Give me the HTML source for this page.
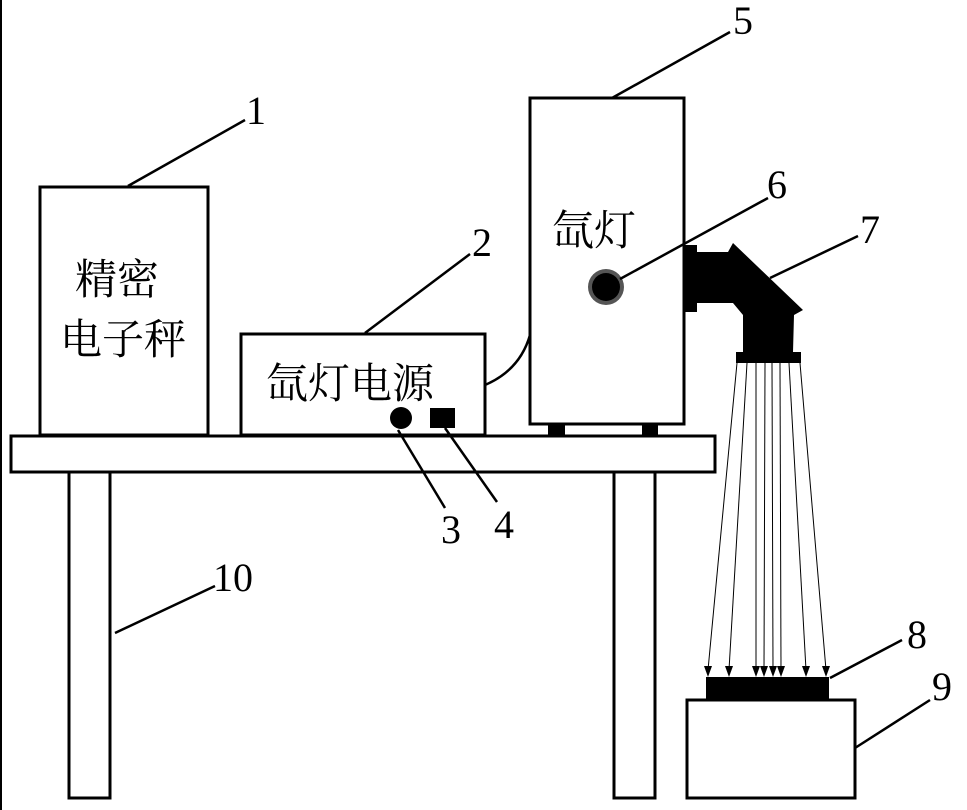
<!DOCTYPE html>
<html><head><meta charset="utf-8"><style>body{margin:0;background:#fff}svg{display:block}text{font-family:"Liberation Serif","Noto Serif CJK SC",serif;fill:#000}</style></head><body>
<svg width="967" height="810" viewBox="0 0 967 810" xmlns="http://www.w3.org/2000/svg">
<line x1="1" y1="0" x2="1" y2="810" stroke="#000" stroke-width="2"/>
<g fill="#fff" stroke="#000" stroke-width="3">
<rect x="40" y="187" width="168" height="248"/>
<rect x="241" y="334" width="244" height="101"/>
<rect x="530" y="98" width="154" height="326"/>
<rect x="11" y="436" width="704" height="36"/>
<rect x="69" y="472" width="41" height="326"/>
<rect x="614" y="472" width="41" height="326"/>
<rect x="687" y="700" width="168" height="98"/>
</g>
<rect x="548" y="424" width="17" height="12" fill="#000"/>
<rect x="642" y="424" width="16" height="12" fill="#000"/>
<path d="M485 385 Q520 370 530 335" fill="none" stroke="#000" stroke-width="2.5"/>
<circle cx="401" cy="418" r="11" fill="#000"/>
<rect x="430" y="408" width="25" height="20" fill="#000"/>
<circle cx="606" cy="287" r="18" fill="#555"/>
<circle cx="606" cy="287" r="14" fill="#000"/>
<polygon points="685,245 697,245 697,252 728,252 733,243 803,310 794,315 793,352 801,352 801,363 736,363 736,352 743,352 743,315 733,303 697,303 697,312 685,312" fill="#000"/>
<rect x="706" y="677" width="123" height="23" fill="#000"/>
<g stroke="#000" stroke-width="1">
<line x1="737" y1="363" x2="708" y2="670"/><line x1="747" y1="363" x2="729" y2="670"/>
<line x1="756" y1="363" x2="756" y2="670"/><line x1="765" y1="363" x2="764" y2="670"/>
<line x1="772" y1="363" x2="773" y2="670"/><line x1="780" y1="363" x2="781" y2="670"/>
<line x1="789" y1="363" x2="806" y2="670"/><line x1="800" y1="363" x2="826" y2="670"/>
</g>
<g fill="#000">
<polygon points="704,666 712,666 708,677"/><polygon points="725,666 733,666 729,677"/>
<polygon points="752,666 760,666 756,677"/><polygon points="760,666 768,666 764,677"/>
<polygon points="769,666 777,666 773,677"/><polygon points="777,666 785,666 781,677"/>
<polygon points="802,666 810,666 806,677"/><polygon points="822,666 830,666 826,677"/>
</g>
<g stroke="#000" stroke-width="2.5">
<line x1="128" y1="186" x2="245" y2="120"/><line x1="365" y1="333" x2="470" y2="254"/>
<line x1="612" y1="98" x2="730" y2="32"/><line x1="620" y1="279" x2="768" y2="198"/>
<line x1="770" y1="278" x2="858" y2="236"/><line x1="398" y1="430" x2="445" y2="508"/>
<line x1="445" y1="428" x2="497" y2="502"/><line x1="115" y1="633" x2="215" y2="586"/>
<line x1="830" y1="678" x2="902" y2="640"/><line x1="855" y1="748" x2="930" y2="700"/>
</g>
<g font-size="40">
<text x="246" y="124">1</text><text x="472" y="256">2</text><text x="441" y="543">3</text>
<text x="494" y="538">4</text><text x="733" y="34">5</text><text x="767" y="198">6</text>
<text x="860" y="243">7</text><text x="907" y="648">8</text><text x="932" y="700">9</text>
<text x="213" y="591">10</text>
</g>
<g font-size="42">
<text x="75" y="294">精密</text><text x="60" y="354">电子秤</text>
<text x="266" y="398">氙灯电源</text><text x="552" y="245">氙灯</text>
</g>
</svg>
</body></html>
